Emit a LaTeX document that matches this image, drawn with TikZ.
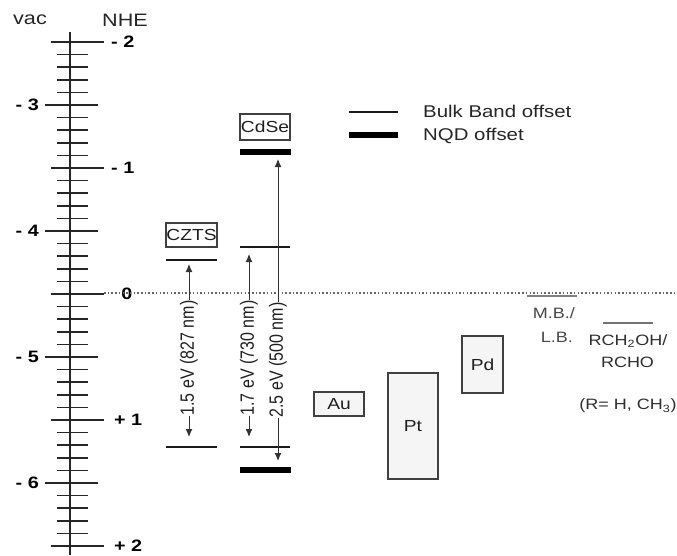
\documentclass[tikz,border=0pt]{standalone}
\usepackage{fontspec}
\setmainfont{Liberation Sans}
\usetikzlibrary{arrows.meta}
\newcommand{\hs}[1]{\scalebox{1.2}[1]{#1}}
\newcommand{\vs}[1]{\scalebox{1}[1.2]{#1}}
\begin{document}
\begin{tikzpicture}[x=1pt,y=-1pt,
  bigtxt/.style={inner sep=0pt, font=\fontsize{18}{21}\selectfont, text=black!85},
  smalltxt/.style={inner sep=0pt, font=\fontsize{15}{18}\selectfont, text=black!82},
  graytxt/.style={inner sep=0pt, font=\fontsize{15}{18}\selectfont, text=black!72},
  lab/.style={inner sep=0pt, font=\fontsize{16.5}{19}\selectfont\bfseries, text=black},
  tick/.style={line width=1.5pt, draw=black!85},
  level/.style={line width=2.2pt, draw=black!90},
  nqd/.style={line width=5.5pt, draw=black},
  box/.style={draw=black!75, line width=1.4pt, fill=black!4, inner sep=0pt, font=\fontsize{16}{19}\selectfont, text=black!88},
  arr/.style={line width=1pt, draw=black!80, -{Latex[length=8pt,width=7pt]}},
  rotlab/.style={inner sep=0pt, rotate=90, font=\fontsize{16}{19}\selectfont, text=black!88}
]
\useasboundingbox (0,0) rectangle (677,555);
\fill[white] (0,0) rectangle (677,555);

% axis
\draw[line width=1.6pt, draw=black!85] (70,32) -- (70,555);
\foreach \k in {0,...,40} {
  \pgfmathsetmacro\yy{42+12.6*\k}
  \pgfmathtruncatemacro\m{mod(\k,10)}
  \pgfmathtruncatemacro\f{mod(\k,5)}
  \ifnum\m=0
    \draw[tick] (51,\yy) -- (104,\yy);
  \else
    \ifnum\f=0
      \draw[tick] (45,\yy) -- (98,\yy);
    \else
      \draw[tick] (57,\yy) -- (88,\yy);
    \fi
  \fi
}
\node[bigtxt] (vac) at (30,20) {\hs{vac}};
\node[bigtxt] (nhe) at (125,20) {\hs{NHE}};
% NHE labels
\node[lab, anchor=west] (nm2) at (111,42) {\hs{- 2}};
\node[lab, anchor=west] (nm1) at (111,168) {\hs{- 1}};
\node[lab] (n0) at (127,294) {\hs{0}};
\node[lab, anchor=west] (np1) at (114,420) {\hs{+ 1}};
\node[lab, anchor=west] (np2) at (114,546) {\hs{+ 2}};
% vac labels
\node[lab, anchor=east] (vm3) at (39,105) {\hs{- 3}};
\node[lab, anchor=east] (vm4) at (39,231) {\hs{- 4}};
\node[lab, anchor=east] (vm5) at (39,357) {\hs{- 5}};
\node[lab, anchor=east] (vm6) at (39,483) {\hs{- 6}};

% NHE zero dotted line
\draw[black!60, line width=1.3pt, dash pattern=on 1.5pt off 2.2pt] (104,293) -- (677,293);

% legend
\draw[level] (349,112) -- (398,112);
\draw[nqd] (349,135) -- (398,135);
\node[bigtxt, anchor=base west, font=\fontsize{17}{20}\selectfont] (lg1) at (423,117.5) {\hs{Bulk Band offset}};
\node[bigtxt, anchor=base west, font=\fontsize{17}{20}\selectfont] (lg2) at (423,140) {\hs{NQD offset}};

% CZTS
\node[box, minimum width=51, minimum height=24, fill=white] (czts) at (191.5,235) {\hs{CZTS}};
\draw[level] (166,260) -- (217,260);
\draw[level] (166,447) -- (217,447);
\coordinate (cztsCB) at (189,264);
\coordinate (cztsVB) at (189,437);

% CdSe
\node[box, minimum width=50, minimum height=26, fill=white] (cdse) at (265,127) {\hs{CdSe}};
\draw[nqd] (240,152) -- (291,152);
\draw[level] (240,247) -- (290,247);
\draw[level] (240,447) -- (290,447);
\draw[nqd] (240,470) -- (291,470);
\coordinate (cdseCB) at (249,254);
\coordinate (cdseVB) at (249,437);
\coordinate (nqdCB) at (278,159);
\coordinate (nqdVB) at (278,461);

\node[rotlab] (g1) at (189,358) {\vs{1.5 eV (827 nm)}};
\node[rotlab] (g2) at (249,358) {\vs{1.7 eV (730 nm)}};
\node[rotlab] (g3) at (278,360) {\vs{2.5 eV (500 nm)}};
\draw[arr] (g1.east) -- (cztsCB);
\draw[arr] (g1.west) -- (cztsVB);
\draw[arr] (g2.east) -- (cdseCB);
\draw[arr] (g2.west) -- (cdseVB);
\draw[arr] (g3.east) -- (nqdCB);
\draw[arr] (g3.west) -- (nqdVB);

% metals
\node[box, minimum width=50, minimum height=24] (au) at (339,404) {\hs{Au}};
\node[box, minimum width=50, minimum height=106] (pt) at (413,426) {\hs{Pt}};
\node[box, minimum width=41, minimum height=57] (pd) at (482.5,364.5) {\hs{Pd}};

% M.B./L.B.
\draw[black!50, line width=1.2pt] (527,296) -- (577,296);
\node[graytxt, anchor=east] (mb) at (575,313) {\hs{M.B./}};
\node[graytxt, anchor=east] (lb) at (573,337) {\hs{L.B.}};

% alcohol
\draw[black!55, line width=1.3pt] (603,323) -- (653,323);
\node[smalltxt] (rch) at (628,341) {\hs{RCH\textsubscript{2}OH/}};
\node[smalltxt] (rcho) at (627.5,362) {\hs{RCHO}};
\node[smalltxt] (rr) at (628,406) {\hs{(R= H, CH\textsubscript{3})}};
\end{tikzpicture}
\end{document}
